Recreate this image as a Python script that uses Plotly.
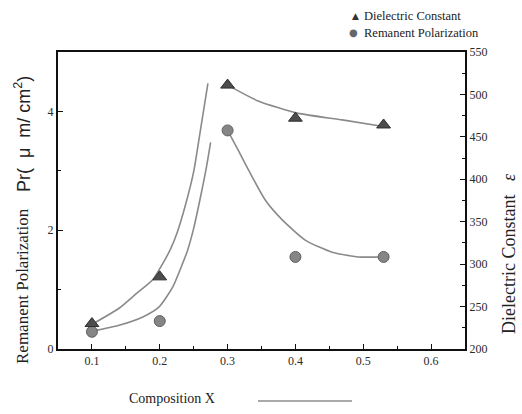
import plotly.graph_objects as go

# Measured data
comp = [0.1, 0.2, 0.3, 0.4, 0.53]
dielectric = [230, 285, 511, 472, 464]
polarization = [0.29, 0.47, 3.68, 1.55, 1.55]

# Hand-drawn guide curves
diel_curve1_x = [0.1, 0.140, 0.165, 0.190, 0.204, 0.216, 0.226, 0.238, 0.250, 0.260, 0.271]
diel_curve1_y = [229, 248, 265, 282, 300, 318, 338, 370, 409, 458, 513]
diel_curve2_x = [0.3, 0.346, 0.403, 0.469, 0.532]
diel_curve2_y = [511, 492, 478, 470, 462]
pol_curve1_x = [0.1, 0.140, 0.175, 0.199, 0.219, 0.234, 0.241, 0.250, 0.259, 0.268, 0.275]
pol_curve1_y = [0.30, 0.40, 0.54, 0.71, 1.04, 1.45, 1.66, 2.03, 2.50, 3.01, 3.48]
pol_curve2_x = [0.3, 0.316, 0.331, 0.356, 0.381, 0.415, 0.454, 0.493, 0.529]
pol_curve2_y = [3.68, 3.34, 3.01, 2.50, 2.17, 1.83, 1.63, 1.55, 1.55]

legend_names = ["Dielectric Constant", "Remanent Polarization"]

serif = "Liberation Serif"
sans = "Liberation Sans"
curve_col = "#8a8a8a"
ink = "#222222"

fig = go.Figure()
for cx, cy in [(diel_curve1_x, diel_curve1_y), (diel_curve2_x, diel_curve2_y)]:
    fig.add_trace(go.Scatter(x=cx, y=cy, mode="lines", yaxis="y2", showlegend=False,
                             line=dict(color=curve_col, width=1.6, shape="spline", smoothing=0.6)))
for cx, cy in [(pol_curve1_x, pol_curve1_y), (pol_curve2_x, pol_curve2_y)]:
    fig.add_trace(go.Scatter(x=cx, y=cy, mode="lines", yaxis="y", showlegend=False,
                             line=dict(color=curve_col, width=1.6, shape="spline", smoothing=0.6)))

fig.add_trace(go.Scatter(x=comp, y=dielectric, mode="markers", yaxis="y2",
                         name=legend_names[0], showlegend=False,
                         marker=dict(symbol="triangle-up", size=12, color="#4d4d4d",
                                     line=dict(color="#2e2e2e", width=1))))
fig.add_trace(go.Scatter(x=comp, y=polarization, mode="markers", yaxis="y",
                         name=legend_names[1], showlegend=False,
                         marker=dict(symbol="circle", size=11, color="#858585",
                                     line=dict(color="#606060", width=1))))

axis_common = dict(showgrid=False, zeroline=False, showline=True, linecolor="#111111",
                   linewidth=2, tickfont=dict(family=serif, size=12, color="#2a2a2a"))

W, H, L, R, T, B = 522, 414, 58, 57, 52, 65
pw, ph = W - L - R, H - T - B
def px(xp):
    return (xp - L) / pw
def py(yp):
    return (H - B - yp) / ph

annotations = [
    dict(text="Composition X", x=px(172), y=py(398), xref="paper", yref="paper",
         xanchor="center", yanchor="middle", showarrow=False,
         font=dict(family=serif, size=14, color=ink)),
    dict(text="Dielectric Constant   <i>ε</i>", x=px(509), y=py(254), xref="paper",
         yref="paper", xanchor="center", yanchor="middle", textangle=-90, showarrow=False,
         font=dict(family=serif, size=18, color=ink)),
    dict(text="Remanent Polarization", x=px(22), y=py(286), xref="paper",
         yref="paper", xanchor="center", yanchor="middle", textangle=-90, showarrow=False,
         font=dict(family=serif, size=17, color=ink)),
    dict(text="Pr(  μ  m/ cm<sup>2</sup>)", x=px(22), y=py(134), xref="paper",
         yref="paper", xanchor="center", yanchor="middle", textangle=-90, showarrow=False,
         font=dict(family=sans, size=18, color=ink)),
    dict(text="▲", x=px(355), y=py(16), xref="paper", yref="paper", showarrow=False,
         xanchor="center", yanchor="middle", font=dict(family="DejaVu Sans", size=9, color="#333333")),
    dict(text=legend_names[0], x=px(362), y=py(16), xref="paper", yref="paper", showarrow=False,
         xanchor="left", yanchor="middle", font=dict(family=serif, size=12.5, color=ink)),
    dict(text="●", x=px(353), y=py(33), xref="paper", yref="paper", showarrow=False,
         xanchor="center", yanchor="middle", font=dict(family="DejaVu Sans", size=10, color="#666666")),
    dict(text=legend_names[1], x=px(362), y=py(33), xref="paper", yref="paper", showarrow=False,
         xanchor="left", yanchor="middle", font=dict(family=serif, size=12.5, color=ink)),
]

fig.update_layout(
    width=W, height=H,
    margin=dict(l=L, r=R, t=T, b=B),
    paper_bgcolor="white", plot_bgcolor="white",
    font=dict(family=serif, color=ink),
    showlegend=False,
    xaxis=dict(range=[0.05, 0.65], tickvals=[0.1, 0.2, 0.3, 0.4, 0.5, 0.6],
               ticktext=["0.1", "0.2", "0.3", "0.4", "0.5", "0.6"],
               ticks="inside", ticklen=5, tickcolor="#111111", mirror=True,
               minor=dict(ticks="inside", ticklen=3, dtick=0.05, tickcolor="#111111"),
               **axis_common),
    yaxis=dict(range=[0, 5], tickvals=[0, 2, 4], ticks="inside", ticklen=5,
               tickcolor="#111111",
               minor=dict(ticks="inside", ticklen=3, dtick=1, tickcolor="#111111"),
               **axis_common),
    yaxis2=dict(range=[200, 550], overlaying="y", side="right", dtick=50,
                ticks="inside", ticklen=5, tickcolor="#111111",
                minor=dict(ticks="inside", ticklen=3, dtick=25, tickcolor="#111111"),
                **axis_common),
    annotations=annotations,
    shapes=[dict(type="line", xref="paper", yref="paper", x0=px(258), x1=px(352),
                 y0=py(401), y1=py(401), line=dict(color="#555555", width=1.2))],
)

fig.write_html("out.html")
